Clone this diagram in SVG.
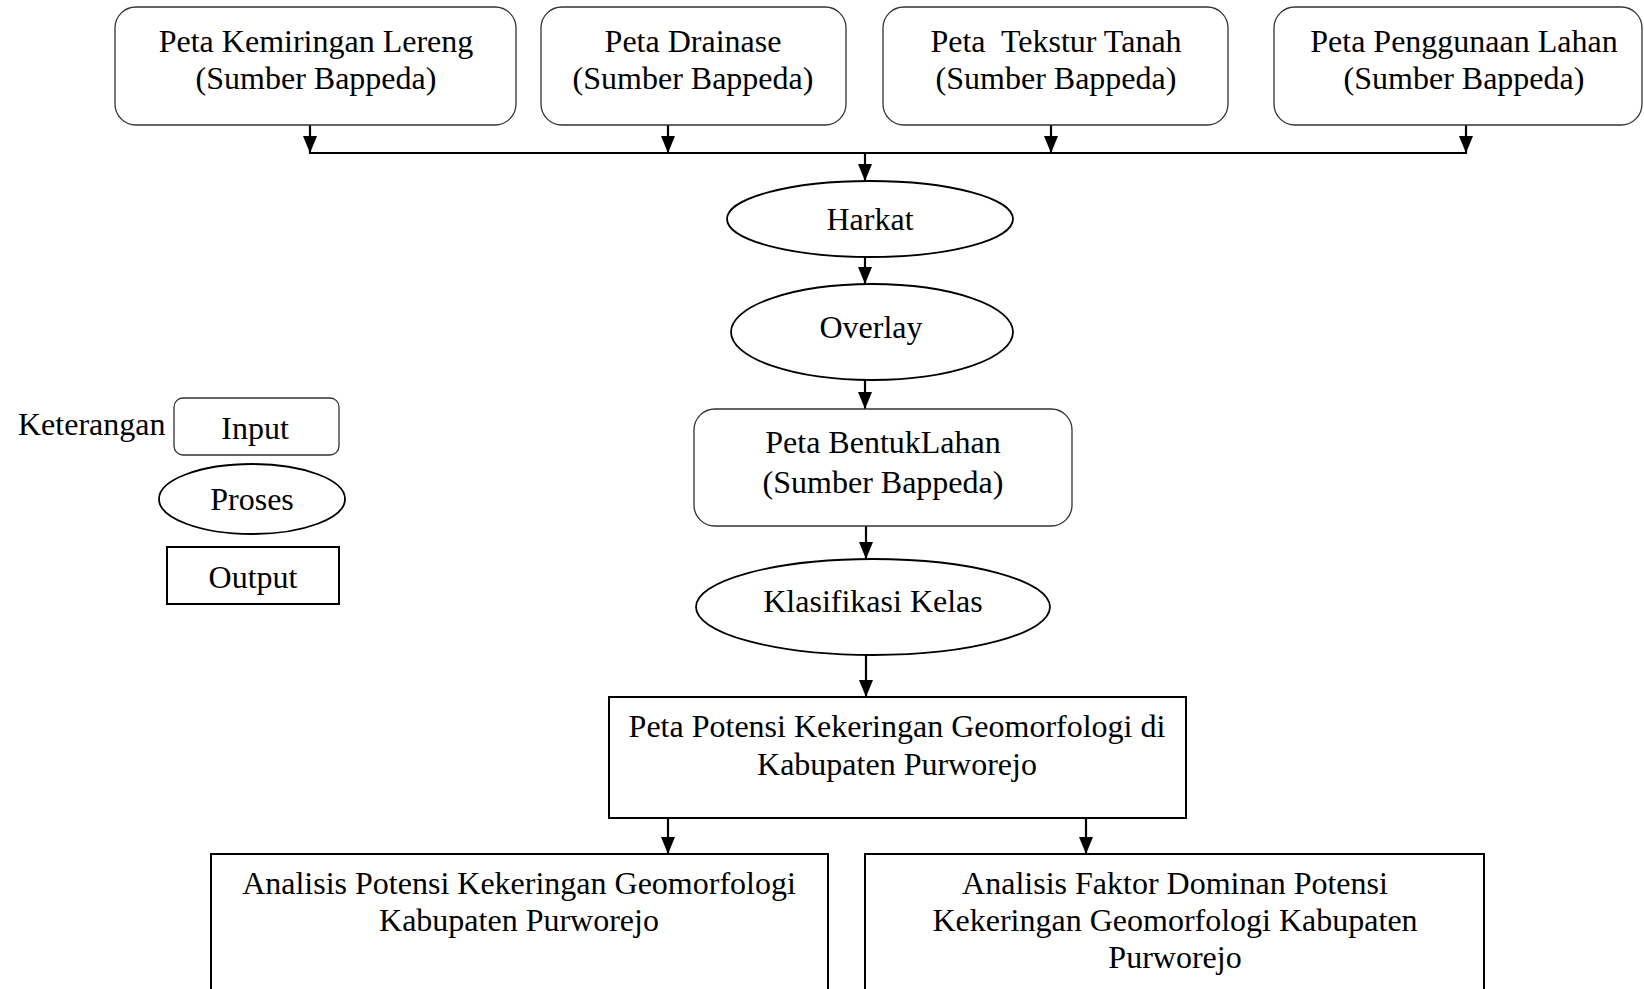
<svg xmlns="http://www.w3.org/2000/svg" width="1644" height="989" viewBox="0 0 1644 989">
<style>
text{font-family:"Liberation Serif","Times New Roman",serif;font-size:32px;fill:#000;text-anchor:middle}
.in{fill:#fff;stroke:#333;stroke-width:1.3}
.pr{fill:#fff;stroke:#000;stroke-width:1.8}
.out{fill:#fff;stroke:#000;stroke-width:2}
.c{fill:none;stroke:#000;stroke-width:2.2}
</style>
<defs>
<marker id="ah" markerWidth="14" markerHeight="18" refX="7" refY="17" orient="auto-start-reverse" markerUnits="userSpaceOnUse" viewBox="0 0 14 18">
<path d="M0,0 L14,0 L7,17 Z" fill="#000" transform="rotate(0)"/>
</marker>
</defs>
<rect width="1644" height="989" fill="#fff"/>
<g id="connectors">
<path class="c" d="M310,125 V153"/>
<path class="c" d="M668,125 V153"/>
<path class="c" d="M1051,125 V153"/>
<path class="c" d="M1466,125 V153"/>
<path class="c" d="M309,153 H1467"/>
<path class="c" d="M865,153 V181"/>
<path class="c" d="M865,257 V284"/>
<path class="c" d="M865,380 V409"/>
<path class="c" d="M866,526 V559"/>
<path class="c" d="M866,655 V697"/>
<path class="c" d="M668,818 V854"/>
<path class="c" d="M1086,818 V854"/>
<g fill="#000">
<path d="M303,136 L317,136 L310,153 Z"/>
<path d="M661,136 L675,136 L668,153 Z"/>
<path d="M1044,136 L1058,136 L1051,153 Z"/>
<path d="M1459,136 L1473,136 L1466,153 Z"/>
<path d="M858,164 L872,164 L865,181 Z"/>
<path d="M858,267 L872,267 L865,284 Z"/>
<path d="M858,392 L872,392 L865,409 Z"/>
<path d="M859,542 L873,542 L866,559 Z"/>
<path d="M859,680 L873,680 L866,697 Z"/>
<path d="M661,837 L675,837 L668,854 Z"/>
<path d="M1079,837 L1093,837 L1086,854 Z"/>
</g>
</g>
<g id="n1"><rect class="in" x="115" y="7" width="401" height="118" rx="21"/><text x="316" y="52">Peta Kemiringan Lereng</text><text x="316" y="89">(Sumber Bappeda)</text></g>
<g id="n2"><rect class="in" x="541" y="7" width="305" height="118" rx="21"/><text x="693" y="52">Peta Drainase</text><text x="693" y="89">(Sumber Bappeda)</text></g>
<g id="n3"><rect class="in" x="883" y="7" width="345" height="118" rx="21"/><text x="1056" y="52" xml:space="preserve">Peta  Tekstur Tanah</text><text x="1056" y="89">(Sumber Bappeda)</text></g>
<g id="n4"><rect class="in" x="1274" y="7" width="368" height="118" rx="21"/><text x="1464" y="52">Peta Penggunaan Lahan</text><text x="1464" y="89">(Sumber Bappeda)</text></g>
<g id="harkat"><ellipse class="pr" cx="870" cy="219" rx="143" ry="38"/><text x="870" y="230">Harkat</text></g>
<g id="overlay"><ellipse class="pr" cx="872" cy="332" rx="141" ry="48"/><text x="871" y="338">Overlay</text></g>
<g id="bentuklahan"><rect class="in" x="694" y="409" width="378" height="117" rx="21"/><text x="883" y="453">Peta BentukLahan</text><text x="883" y="493">(Sumber Bappeda)</text></g>
<g id="klasifikasi"><ellipse class="pr" cx="873" cy="607" rx="177" ry="48"/><text x="873" y="612">Klasifikasi Kelas</text></g>
<g id="potensi"><rect class="out" x="609" y="697" width="577" height="121"/><text x="897" y="737">Peta Potensi Kekeringan Geomorfologi di</text><text x="897" y="775">Kabupaten Purworejo</text></g>
<g id="analisis1"><rect class="out" x="211" y="854" width="617" height="150"/><text x="519" y="894">Analisis Potensi Kekeringan Geomorfologi</text><text x="519" y="931">Kabupaten Purworejo</text></g>
<g id="analisis2"><rect class="out" x="865" y="854" width="619" height="150"/><text x="1175" y="894">Analisis Faktor Dominan Potensi</text><text x="1175" y="931">Kekeringan Geomorfologi Kabupaten</text><text x="1175" y="968">Purworejo</text></g>
<g id="legend">
<text x="18" y="435" style="text-anchor:start">Keterangan</text>
<g id="leg-input"><rect class="in" x="174" y="398" width="165" height="57" rx="9"/><text x="255" y="439">Input</text></g>
<g id="leg-proses"><ellipse class="pr" cx="252" cy="499" rx="93" ry="35"/><text x="252" y="510">Proses</text></g>
<g id="leg-output"><rect class="out" x="167" y="547" width="172" height="57"/><text x="253" y="588">Output</text></g>
</g>
</svg>
